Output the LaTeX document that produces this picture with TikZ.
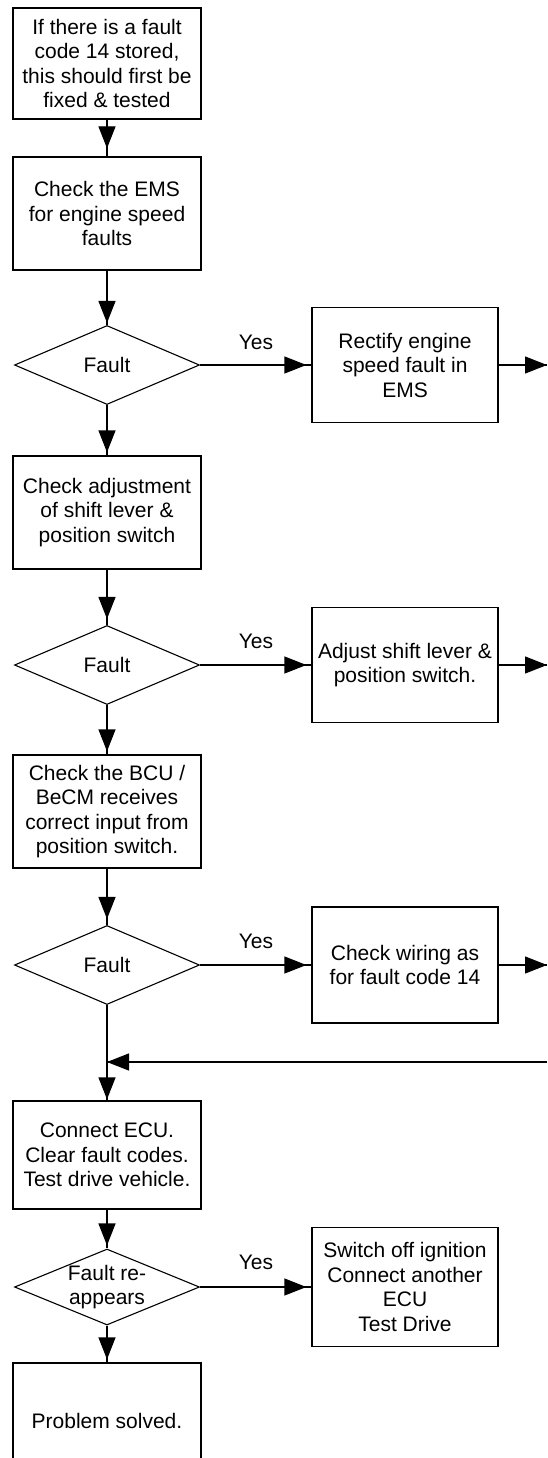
\documentclass[tikz,border=0pt]{standalone}
\usepackage{fontspec}
\setmainfont{Liberation Sans}
\usetikzlibrary{shapes.geometric,arrows.meta}
\begin{document}
\begin{tikzpicture}[x=1pt,y=1pt,
  font=\fontsize{21}{24.5}\selectfont,
  lbox/.style={draw, line width=1.3pt, inner sep=0pt, minimum width=188pt, align=center},
  rbox/.style={draw, line width=1.3pt, inner sep=0pt, minimum width=186pt, align=center},
  dia/.style={draw, diamond, line width=1.1pt, minimum width=185pt, minimum height=79pt, inner sep=0pt},
  dtext/.style={align=center, inner sep=0pt},
  flow/.style={line width=1.3pt, postaction={draw, -{Triangle[length=22pt,width=17pt]}, shorten >=#1}},
  flow/.default=3pt]
\useasboundingbox (0,0) rectangle (547,-1458);
\clip (0,0) rectangle (547,-1458);
\fill[white] (0,0) rectangle (547,-1458);

% left column
\node[lbox, minimum height=111pt] (b1) at (107,-63.5) {If there is a fault\\code 14 stored,\\this should first be\\fixed \& tested};
\node[lbox, minimum height=113pt] (b2) at (107,-213.5) {Check the EMS\\for engine speed\\faults};
\node[dia] (d1) at (107,-365) {};
\node[dtext] (d1t) at (d1) {Fault};
\node[lbox, minimum height=113pt] (b3) at (107,-512.5) {Check adjustment\\of shift lever \&\\position switch};
\node[dia] (d2) at (107,-665) {};
\node[dtext] (d2t) at (d2) {Fault};
\node[lbox, minimum height=113pt] (b4) at (107,-811.5) {Check the BCU /\\BeCM receives\\correct input from\\position switch.};
\node[dia] (d3) at (107,-965) {};
\node[dtext] (d3t) at (d3) {Fault};
\node[lbox, minimum height=108pt] (b5) at (107,-1155) {Connect ECU.\\Clear fault codes.\\Test drive vehicle.};
\node[dia, minimum height=76pt] (d4) at (107,-1287) {};
\node[dtext] (d4t) at (d4) {Fault re-\\appears};
\node[lbox, minimum height=116pt] (b6) at (107,-1421) {Problem solved.};

% right column
\node[rbox, minimum height=115pt] (r1) at (405,-365) {Rectify engine\\speed fault in\\EMS};
\node[rbox, minimum height=115pt] (r2) at (405,-665) {Adjust shift lever \&\\position switch.};
\node[rbox, minimum height=116pt] (r3) at (405,-965) {Check wiring as\\for fault code 14};
\node[rbox, minimum height=119pt] (r4) at (405,-1287) {Switch off ignition\\Connect another\\ECU\\Test Drive};

% labels
\node (y1) at (256,-342) {Yes};
\node (y2) at (256,-641) {Yes};
\node (y3) at (256,-941) {Yes};
\node (y4) at (256,-1262) {Yes};

% free ends
\coordinate (e1) at (547,-365);
\coordinate (e2) at (547,-665);
\coordinate (e3) at (547,-965);
\coordinate (e4) at (547,-1062);
\coordinate (j) at (107,-1062);

% connectors
\draw[flow=8pt] (b1) -- (b2);
\draw[flow=2pt] (b2) -- (d1);
\draw[flow] (d1) -- (b3);
\draw[flow=6pt] (b3) -- (d2);
\draw[flow] (d2) -- (b4);
\draw[flow=6pt] (b4) -- (d3);
\draw[flow=1pt] (d3) -- (b5);
\draw[flow] (b5) -- (d4);
\draw[flow] (d4) -- (b6);

\draw[flow=5pt] (d1) -- (r1);
\draw[flow=5pt] (d2) -- (r2);
\draw[flow=5pt] (d3) -- (r3);
\draw[flow=5pt] (d4) -- (r4);

\draw[flow=0pt] (r1) -- (e1);
\draw[flow=0pt] (r2) -- (e2);
\draw[flow=0pt] (r3) -- (e3);
\draw[flow=0pt] (e4) -- (j);
\end{tikzpicture}
\end{document}
